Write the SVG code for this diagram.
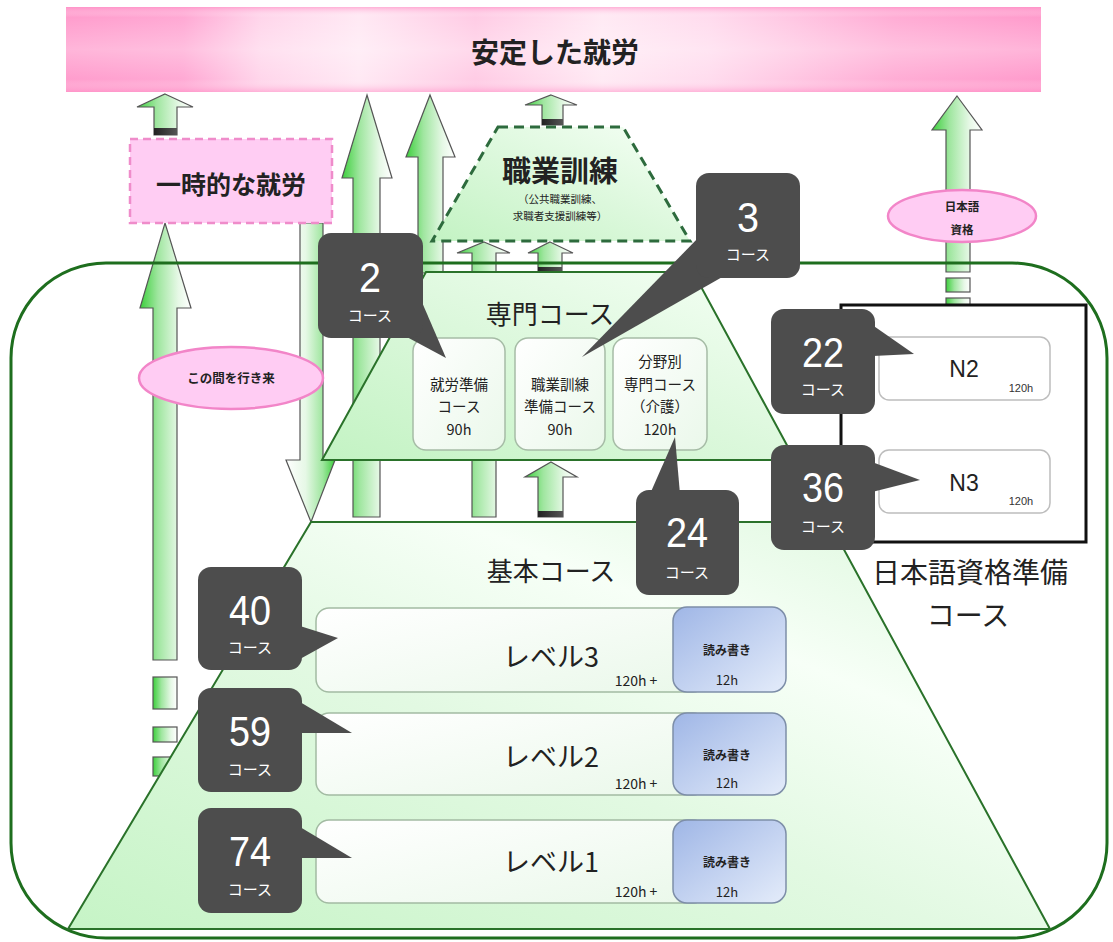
<svg xmlns="http://www.w3.org/2000/svg" width="1113" height="942" viewBox="0 0 1113 942">
<defs>
<linearGradient id="bannerH" x1="0" y1="0" x2="1" y2="0">
<stop offset="0" stop-color="#ff9dcd"/><stop offset="0.12" stop-color="#ffa9d4"/><stop offset="0.2" stop-color="#ffd6eb"/><stop offset="0.3" stop-color="#ffe9f4"/><stop offset="0.42" stop-color="#ffcce5"/><stop offset="0.55" stop-color="#ffeaf4"/><stop offset="0.66" stop-color="#ffdcee"/><stop offset="0.85" stop-color="#ffadd5"/><stop offset="1" stop-color="#ff9bcc"/>
</linearGradient>
<linearGradient id="bannerV" x1="0" y1="0" x2="0" y2="1">
<stop offset="0" stop-color="#ff8cc4" stop-opacity="0.6"/><stop offset="0.12" stop-color="#ffffff" stop-opacity="0"/><stop offset="0.5" stop-color="#ffffff" stop-opacity="0.25"/><stop offset="0.85" stop-color="#ffffff" stop-opacity="0"/><stop offset="1" stop-color="#ff8cc4" stop-opacity="0.5"/>
</linearGradient>
<linearGradient id="upG" x1="0" y1="0" x2="1" y2="0">
<stop offset="0" stop-color="#3ccf3c"/><stop offset="0.35" stop-color="#9fe69f"/><stop offset="0.75" stop-color="#e6f8e6"/><stop offset="1" stop-color="#ffffff"/>
</linearGradient>
<linearGradient id="downG" x1="0" y1="0" x2="1" y2="0">
<stop offset="0" stop-color="#ffffff"/><stop offset="0.4" stop-color="#e6f8e6"/><stop offset="0.75" stop-color="#9fe69f"/><stop offset="1" stop-color="#3ccf3c"/>
</linearGradient>
<linearGradient id="trapG" x1="0" y1="1" x2="1" y2="0">
<stop offset="0" stop-color="#c3f3c3"/><stop offset="0.5" stop-color="#dcf8dc"/><stop offset="1" stop-color="#f6fff6"/>
</linearGradient>
<linearGradient id="baseG" x1="0" y1="1" x2="1" y2="0">
<stop offset="0" stop-color="#c6f4c6"/><stop offset="0.45" stop-color="#e2f9e2"/><stop offset="0.7" stop-color="#f7fff7"/><stop offset="1" stop-color="#d8f6d8"/>
</linearGradient>
<linearGradient id="boxG" x1="0" y1="0" x2="1" y2="1">
<stop offset="0" stop-color="#ffffff"/><stop offset="1" stop-color="#eaf8ea"/>
</linearGradient>
<linearGradient id="blueG" x1="0" y1="0" x2="1" y2="1">
<stop offset="0" stop-color="#9fb6e6"/><stop offset="1" stop-color="#e4ecfa"/>
</linearGradient>
<linearGradient id="barG" x1="0" y1="0" x2="1" y2="0">
<stop offset="0" stop-color="#222"/><stop offset="1" stop-color="#555"/>
</linearGradient>
<style>
.arrU{fill:url(#upG);stroke:#555;stroke-width:1.2}
.arrD{fill:url(#downG);stroke:#555;stroke-width:1.2}
.bar{fill:url(#barG)}
.jp{font-family:"Noto Sans CJK JP","Noto Sans CJK SC",sans-serif;fill:#222}
.b{font-weight:bold}
.co{fill:#4d4d4d}
.cn{font-family:"Liberation Sans","Noto Sans",sans-serif;fill:#fff;font-size:42px;text-anchor:middle}
.cs{font-family:"Noto Sans CJK JP",sans-serif;fill:#fff;font-size:15px;text-anchor:middle}
.mid{text-anchor:middle}
.ell{fill:#ffccf3;stroke:#f285c8;stroke-width:2.5}
.lvl{fill:url(#boxG);stroke:#a3bba3;stroke-width:1.5}
.blu{fill:url(#blueG);stroke:#7d8ea8;stroke-width:1.5}
.sp{fill:url(#boxG);stroke:#a6bca6;stroke-width:1.5}
</style>
</defs>
<rect width="1113" height="942" fill="#ffffff"/>

<g id="banner">
<rect x="66" y="7" width="975" height="85" fill="url(#bannerH)"/>
<rect x="66" y="7" width="975" height="85" fill="url(#bannerV)"/>
<text x="555" y="63" class="jp b mid" font-size="28">安定した就労</text>
</g>

<g id="connectors">
<path class="arrU" d="M165,94 L193,107 L177,107 L177,135 L154,135 L154,107 L137,107 Z"/>
<rect class="bar" x="154" y="128" width="23" height="7"/>
<path class="arrU" d="M165,223 L191,308 L177,308 L177,660 L153,660 L153,308 L140,308 Z"/>
<rect class="arrU" x="153" y="677" width="24" height="32"/>
<rect class="arrU" x="153" y="727" width="24" height="15"/>
<rect class="arrU" x="153" y="757" width="24" height="19"/>
<path class="arrD" d="M300,223 L323,223 L323,460 L335,460 L311,522 L286,460 L300,460 Z"/>
<path class="arrU" d="M367,95 L392,178 L380,178 L380,517 L353,517 L353,178 L342,178 Z"/>
<path class="arrU" d="M430,95 L455,157 L443,157 L443,273 L418,273 L418,157 L406,157 Z"/>
<path class="arrU" d="M484,242 L510,253 L496,253 L496,517 L472,517 L472,253 L457,253 Z"/>
<path class="arrU" d="M550,242 L573,253 L562,253 L562,273 L538,273 L538,253 L528,253 Z"/>
<rect class="bar" x="538" y="267" width="24" height="6"/>
<path class="arrU" d="M551,95 L577,105 L563,105 L563,125 L542,125 L542,105 L525,105 Z"/>
<rect class="bar" x="542" y="119" width="21" height="6"/>
<path class="arrU" d="M551,462 L577,477 L563,477 L563,517 L538,517 L538,477 L525,477 Z"/>
<rect class="bar" x="538" y="511" width="25" height="6"/>
<path class="arrU" d="M957,96 L982,130 L970,130 L970,272 L946,272 L946,130 L932,130 Z"/>
<rect class="arrU" x="946" y="278" width="24" height="14"/>
<rect class="arrU" x="946" y="298" width="24" height="8"/>
</g>

<g id="temp-work">
<rect x="130" y="139" width="202" height="84" fill="#ffcdf3" stroke="#ef8cca" stroke-width="2.5" stroke-dasharray="8,5"/>
<text x="231" y="194" class="jp b mid" font-size="25">一時的な就労</text>
</g>

<g id="back-forth">
<ellipse class="ell" cx="231" cy="378" rx="92" ry="31"/>
<text x="231" y="383" class="jp b mid" font-size="12.5" fill="#3a2a55">この間を行き来</text>
</g>

<g id="jp-qual-label">
<ellipse class="ell" cx="962" cy="216" rx="74" ry="26"/>
<text x="962" y="211" class="jp b mid" font-size="11.5">日本語</text>
<text x="962" y="234" class="jp b mid" font-size="11.5">資格</text>
</g>

<g id="frame">
<path d="M106,263 H1012 A95,95 0 0 1 1107,358 V843 A95,95 0 0 1 1012,938 H106 A95,95 0 0 1 11,843 V358 A95,95 0 0 1 106,263 Z" fill="none" stroke="#1e6e1e" stroke-width="3"/>
</g>

<g id="vocational-training">
<path d="M498,127 L623,127 L690,241 L432,241 Z" fill="url(#trapG)" stroke="#2d6b3d" stroke-width="3" stroke-dasharray="10,6"/>
<text x="560" y="182" class="jp b mid" font-size="29">職業訓練</text>
<text x="560" y="203" class="jp mid" font-size="10.5">（公共職業訓練、</text>
<text x="560" y="220" class="jp mid" font-size="10.5">求職者支援訓練等）</text>
</g>

<g id="specialized">
<path d="M426,272 L693,272 L795,460 L322,460 Z" fill="url(#trapG)" stroke="#2a722a" stroke-width="2"/>
<line x1="795" y1="460" x2="829" y2="522" stroke="#2a722a" stroke-width="2"/>
<text x="550" y="324" class="jp mid" font-size="26">専門コース</text>
<rect class="sp" x="413" y="338" width="92" height="112" rx="13"/>
<rect class="sp" x="515" y="338" width="90" height="112" rx="13"/>
<rect class="sp" x="613" y="338" width="94" height="112" rx="13"/>
<g class="jp" font-size="14.5" text-anchor="middle" fill="#333">
<text x="459" y="390">就労準備</text><text x="459" y="412">コース</text><text x="459" y="435">90h</text>
<text x="560" y="390">職業訓練</text><text x="560" y="412">準備コース</text><text x="560" y="435">90h</text>
<text x="660" y="367">分野別</text><text x="660" y="390">専門コース</text><text x="660" y="412">（介護）</text><text x="660" y="435">120h</text>
</g>
</g>

<g id="basic">
<path d="M311,522 L829,522 L1050,929 L68,929 Z" fill="url(#baseG)" stroke="#2a722a" stroke-width="2"/>
<text x="551" y="581" class="jp mid" font-size="26">基本コース</text>
<rect class="lvl" x="316" y="608" width="390" height="84" rx="13"/>
<rect class="lvl" x="316" y="713" width="390" height="82" rx="13"/>
<rect class="lvl" x="316" y="820" width="390" height="83" rx="13"/>
<rect class="blu" x="673" y="607" width="113" height="85" rx="14"/>
<rect class="blu" x="673" y="713" width="113" height="82" rx="14"/>
<rect class="blu" x="673" y="820" width="113" height="83" rx="14"/>
<g class="jp" text-anchor="middle">
<text x="551" y="667" font-size="27">レベル3</text>
<text x="551" y="767" font-size="27">レベル2</text>
<text x="551" y="872" font-size="27">レベル1</text>
<text x="636" y="686" font-size="14">120h +</text>
<text x="636" y="789" font-size="14">120h +</text>
<text x="636" y="897" font-size="14">120h +</text>
<text x="727" y="655" font-size="12" font-weight="bold">読み書き</text>
<text x="727" y="685" font-size="13">12h</text>
<text x="727" y="760" font-size="12" font-weight="bold">読み書き</text>
<text x="727" y="788" font-size="13">12h</text>
<text x="727" y="867" font-size="12" font-weight="bold">読み書き</text>
<text x="727" y="897" font-size="13">12h</text>
</g>
</g>

<g id="jp-qualification">
<rect x="841" y="305" width="245" height="237" fill="#ffffff" stroke="#111" stroke-width="3"/>
<rect x="879" y="337" width="171" height="63" rx="10" fill="#fff" stroke="#bdbdbd" stroke-width="1.5"/>
<rect x="879" y="450" width="171" height="63" rx="10" fill="#fff" stroke="#bdbdbd" stroke-width="1.5"/>
<text x="964" y="377" font-family="Liberation Sans,sans-serif" font-size="23" text-anchor="middle" fill="#222">N2</text>
<text x="1021" y="392" font-family="Liberation Sans,sans-serif" font-size="11" text-anchor="middle" fill="#333">120h</text>
<text x="964" y="491" font-family="Liberation Sans,sans-serif" font-size="23" text-anchor="middle" fill="#222">N3</text>
<text x="1021" y="505" font-family="Liberation Sans,sans-serif" font-size="11" text-anchor="middle" fill="#333">120h</text>
<text x="970" y="583" class="jp mid" font-size="28">日本語資格準備</text>
<text x="968" y="626" class="jp mid" font-size="28">コース</text>
</g>

<g id="callout-2">
<path class="co" d="M418,293 L446,358 L405,336 Z"/>
<rect class="co" x="318" y="233" width="105" height="105" rx="13"/>
<text class="cn" x="370" y="292" textLength="22" lengthAdjust="spacingAndGlyphs">2</text>
<text class="cs" x="370" y="321">コース</text>
</g>
<g id="callout-3">
<path class="co" d="M700,236 L582,357 L724,276 Z"/>
<rect class="co" x="696" y="173" width="104" height="105" rx="13"/>
<text class="cn" x="748" y="232" textLength="22" lengthAdjust="spacingAndGlyphs">3</text>
<text class="cs" x="748" y="260">コース</text>
</g>
<g id="callout-22">
<path class="co" d="M868,322 L914,354 L873,356 Z"/>
<rect class="co" x="771" y="309" width="104" height="105" rx="13"/>
<text class="cn" x="823" y="367" textLength="42" lengthAdjust="spacingAndGlyphs">22</text>
<text class="cs" x="823" y="395">コース</text>
</g>
<g id="callout-36">
<path class="co" d="M872,462 L920,480 L872,492 Z"/>
<rect class="co" x="771" y="445" width="104" height="105" rx="13"/>
<text class="cn" x="823" y="502" textLength="42" lengthAdjust="spacingAndGlyphs">36</text>
<text class="cs" x="823" y="532">コース</text>
</g>
<g id="callout-24">
<path class="co" d="M650,494 L675,437 L680,494 Z"/>
<rect class="co" x="636" y="490" width="103" height="105" rx="13"/>
<text class="cn" x="687" y="547" textLength="42" lengthAdjust="spacingAndGlyphs">24</text>
<text class="cs" x="687" y="578">コース</text>
</g>
<g id="callout-40">
<path class="co" d="M300,626 L338,638 L300,659 Z"/>
<rect class="co" x="198" y="567" width="104" height="103" rx="13"/>
<text class="cn" x="250" y="625" textLength="42" lengthAdjust="spacingAndGlyphs">40</text>
<text class="cs" x="250" y="653">コース</text>
</g>
<g id="callout-59">
<path class="co" d="M300,702 L352,733 L300,733 Z"/>
<rect class="co" x="198" y="688" width="104" height="104" rx="13"/>
<text class="cn" x="250" y="746" textLength="42" lengthAdjust="spacingAndGlyphs">59</text>
<text class="cs" x="250" y="775">コース</text>
</g>
<g id="callout-74">
<path class="co" d="M300,827 L352,858 L300,858 Z"/>
<rect class="co" x="198" y="808" width="104" height="105" rx="13"/>
<text class="cn" x="250" y="866" textLength="42" lengthAdjust="spacingAndGlyphs">74</text>
<text class="cs" x="250" y="895">コース</text>
</g>
</svg>
